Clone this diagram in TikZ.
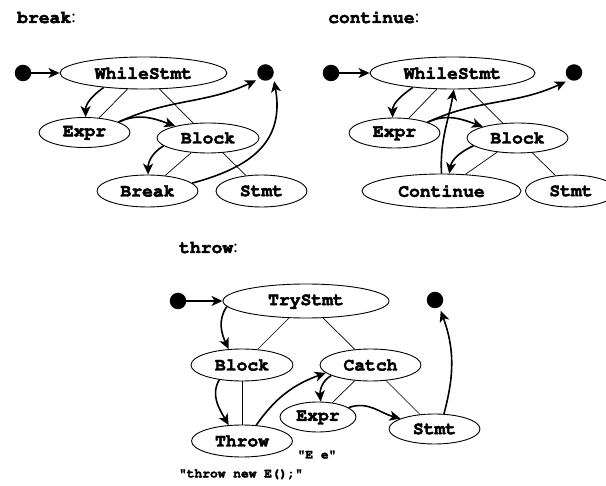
\documentclass[tikz,border=0pt]{standalone}
\usepackage[T1]{fontenc}
\usepackage{fontspec}
\setmainfont{Liberation Serif}
\setmonofont{Liberation Mono}
\newcommand\courb{\fontencoding{T1}\fontfamily{pcr}\fontseries{b}\fontshape{n}\selectfont}
\newcommand\heavy[1]{\special{pdf:literal direct 2 Tr 0.45 w}#1\special{pdf:literal direct 0 Tr}}
\newcommand\heavysm[1]{\special{pdf:literal direct 2 Tr 0.3 w}#1\special{pdf:literal direct 0 Tr}}
\usetikzlibrary{shapes.geometric,arrows.meta}
\tikzset{
  ast/.style={draw, ellipse, line width=0.9pt, inner sep=0pt,
    font=\courb\fontsize{18}{20}\selectfont},
  dot/.style={circle, fill=black, inner sep=0pt, minimum size=16.5pt},
  enddot/.style={dot, outer sep=4pt},
  flow/.style={line width=1.6pt, -{Stealth[length=11pt,width=10pt,inset=3pt]}},
  tree/.style={line width=0.7pt},
  title/.style={anchor=base west, inner sep=0pt, font=\fontsize{18}{20}\selectfont},
  note/.style={inner sep=0pt, font=\courb\fontsize{12.9}{14}\selectfont}
}
\begin{document}
\begin{tikzpicture}[x=1pt,y=-1pt]
\useasboundingbox[fill=white] (0,0) rectangle (606,486);

% ---------------- break ----------------
\node[title] (lbreak) at (17,23) {{\courb\heavy{break}}:};
\node[dot] (bs) at (23,73) {};
\node[ast, minimum width=167pt, minimum height=32pt] (bw) at (143.5,73) {\heavy{WhileStmt}};
\node[enddot] (be) at (265.5,72.5) {};
\node[ast, minimum width=91pt, minimum height=30pt] (bx) at (84.5,132.5) {\heavy{Expr}};
\node[ast, minimum width=102pt, minimum height=30pt] (bb) at (208,138) {\heavy{Block}};
\node[ast, minimum width=101pt, minimum height=32pt] (bk) at (147.5,191) {\heavy{Break}};
\node[ast, minimum width=91pt, minimum height=32pt] (bt) at (261.5,191) {\heavy{Stmt}};

\draw[tree] (bw) -- (bx);
\draw[tree] (bw) -- (bb);
\draw[tree] (bb) -- (bk);
\draw[tree] (bb) -- (bt);

\draw[flow] (bs) -- (bw);
\draw[flow] (bw.200) to[out=215,in=90] (bx.86);
\draw[flow] (bx.17) to[out=25,in=160] (bb.160);
\draw[flow] (bx.17) to[out=25,in=205] (be.220);
\draw[flow] (bb.190) to[out=210,in=90] (bk.88);
\draw[flow] (bk.10) to[out=15,in=-80,looseness=1.2] (be.-45);

% ---------------- continue ----------------
\node[title] (lcont) at (328,23) {{\courb\heavy{continue}}:};
\node[dot] (cs) at (331,73) {};
\node[ast, minimum width=165pt, minimum height=32pt] (cw) at (452.5,73) {\heavy{WhileStmt}};
\node[enddot] (ce) at (574,72.5) {};
\node[ast, minimum width=91pt, minimum height=30pt] (cx) at (394.5,133) {\heavy{Expr}};
\node[ast, minimum width=101pt, minimum height=30pt] (cb) at (517.5,138) {\heavy{Block}};
\node[ast, minimum width=159pt, minimum height=34pt] (ck) at (441.5,191) {\heavy{Continue}};
\node[ast, minimum width=91pt, minimum height=32pt] (ct) at (571,191) {\heavy{Stmt}};

\draw[tree] (cw) -- (cx);
\draw[tree] (cw) -- (cb);
\draw[tree] (cb) -- (ck);
\draw[tree] (cb) -- (ct);

\draw[flow] (cs) -- (cw);
\draw[flow] (cw.200) to[out=215,in=90] (cx.97);
\draw[flow] (cx.18) to[out=25,in=160] (cb.162);
\draw[flow] (cx.18) to[out=25,in=205] (ce.228);
\draw[flow] (cb.190) to[out=205,in=80] (ck.66);
\draw[flow] (ck.90) to[out=93,in=260] (cw.275);

% ---------------- throw ----------------
\node[title] (lthrow) at (179,253) {{\courb\heavy{throw}}:};
\node[dot] (ts) at (178,301) {};
\node[ast, minimum width=166pt, minimum height=34pt] (tw) at (306,301) {\heavy{TryStmt}};
\node[enddot] (te) at (435,300) {};
\node[ast, minimum width=102pt, minimum height=32pt] (tb) at (242,365) {\heavy{Block}};
\node[ast, minimum width=101pt, minimum height=32pt] (tc) at (370.5,365) {\heavy{Catch}};
\node[ast, minimum width=76pt, minimum height=30pt] (tx) at (318,417) {\heavy{Expr}};
\node[ast, minimum width=91pt, minimum height=30pt] (tt) at (434.5,429) {\heavy{Stmt}};
\node[ast, minimum width=101pt, minimum height=32pt] (tr) at (242,441) {\heavy{Throw}};
\node[note] (ee) at (317,455) {\heavysm{"E e"}};
\node[note] (tn) at (241,474) {\heavysm{"throw new E();"}};

\draw[tree] (tw) -- (tb);
\draw[tree] (tw) -- (tc);
\draw[tree] (tb) -- (tr);
\draw[tree] (tc) -- (tx);
\draw[tree] (tc) -- (tt);

\draw[flow] (ts) -- (tw);
\draw[flow] (tw.184) to[out=235,in=115] (tb.130);
\draw[flow] (tb.213) to[out=240,in=120] (tr.130);
\draw[flow] (tr.48) to[out=55,in=200] (tc.190);
\draw[flow] (tc.195) to[out=210,in=95] (tx.80);
\draw[flow] (tx.17) to[out=20,in=165] (tt.163);
\draw[flow] (tt.58) to[out=75,in=-70] (te.-62);
\end{tikzpicture}
\end{document}
